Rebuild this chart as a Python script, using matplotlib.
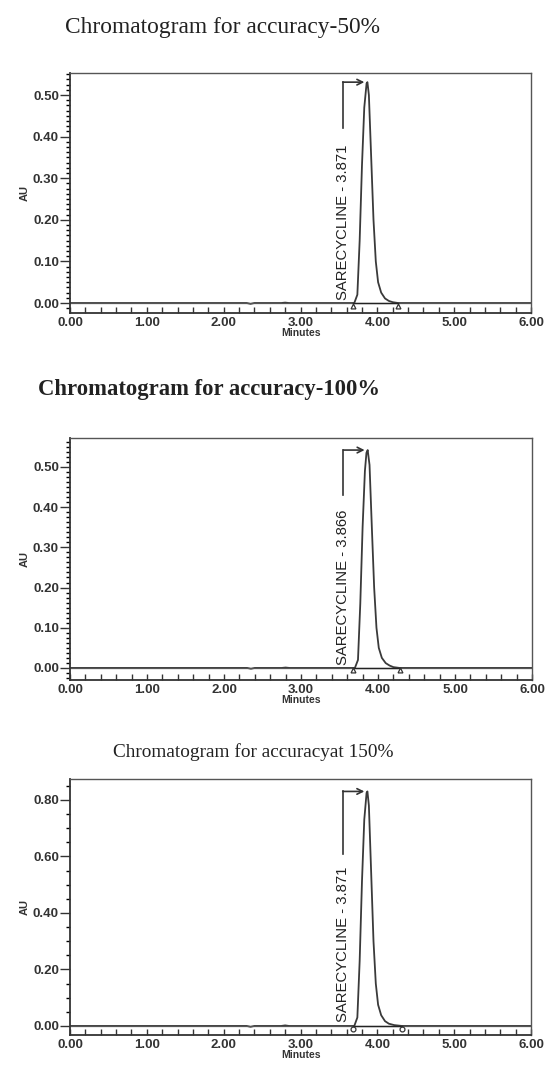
import matplotlib
matplotlib.use("Agg")
from matplotlib import pyplot as plt
from matplotlib.ticker import MultipleLocator, FormatStrFormatter

# chromatogram traces (time in minutes, absorbance in AU)
titles = ["Chromatogram for accuracy-50%",
          "Chromatogram for accuracy-100%",
          "Chromatogram for accuracyat 150%"]
peak_labels = ["SARECYCLINE - 3.871", "SARECYCLINE - 3.866", "SARECYCLINE - 3.871"]
retention = [3.871, 3.866, 3.871]

time_50 = [0.00, 2.30, 2.35, 2.40, 2.75, 2.80, 2.85, 3.70, 3.74, 3.77, 3.80, 3.83,
           3.86, 3.871, 3.89, 3.92, 3.95, 3.98, 4.01, 4.05, 4.10, 4.15, 4.20, 4.27, 6.00]
au_50 = [0.000, 0.000, -0.002, 0.000, 0.000, 0.001, 0.000, 0.000, 0.020, 0.150, 0.330, 0.470,
         0.528, 0.531, 0.500, 0.350, 0.200, 0.100, 0.050, 0.025, 0.011, 0.005, 0.002, 0.000, 0.000]

time_100 = [0.00, 2.30, 2.35, 2.40, 2.75, 2.80, 2.85, 3.70, 3.74, 3.77, 3.80, 3.83,
            3.85, 3.866, 3.89, 3.92, 3.95, 3.98, 4.01, 4.05, 4.10, 4.15, 4.20, 4.28, 6.00]
au_100 = [0.000, 0.000, -0.002, 0.000, 0.000, 0.001, 0.000, 0.000, 0.020, 0.160, 0.350, 0.490,
          0.535, 0.542, 0.505, 0.350, 0.200, 0.100, 0.050, 0.025, 0.012, 0.006, 0.002, 0.000, 0.000]

time_150 = [0.00, 2.30, 2.35, 2.40, 2.75, 2.80, 2.85, 3.70, 3.74, 3.77, 3.80, 3.83,
            3.86, 3.871, 3.89, 3.92, 3.95, 3.98, 4.01, 4.05, 4.10, 4.15, 4.22, 4.32, 6.00]
au_150 = [0.000, 0.000, -0.003, 0.000, 0.000, 0.002, 0.000, 0.000, 0.030, 0.230, 0.510, 0.730,
          0.825, 0.830, 0.780, 0.540, 0.300, 0.150, 0.075, 0.038, 0.017, 0.008, 0.003, 0.000, 0.000]

peak_start = [3.68, 3.68, 3.68]
peak_end = [4.27, 4.28, 4.32]

y_limits = [(-0.024, 0.553), (-0.030, 0.572), (-0.032, 0.874)]
y_major = [0.10, 0.10, 0.20]
y_minor = [0.0125, 0.0125, 0.05]
arrow_bottom = [0.42, 0.43, 0.61]
marker_style = ["^", "^", "o"]

axes_boxes = [(70, 73, 531, 313), (70, 438, 532, 680), (70, 779, 531, 1035)]
title_pos = [(65, 27, 16.8), (38, 389, 16.3), (113, 752, 13.9)]
title_weight = ["normal", "bold", "normal"]

traces = [(time_50, au_50), (time_100, au_100), (time_150, au_150)]

W, H = 546, 1074
fig = plt.figure(figsize=(W / 100, H / 100), dpi=100)

for i in range(3):
    l, t, r, b = axes_boxes[i]
    ax = fig.add_axes([l / W, 1 - b / H, (r - l) / W, (b - t) / H])
    tx, ty = traces[i]
    ax.plot(tx, ty, color="#3a3a3a", lw=1.3)
    ax.axhline(0, color="#555555", lw=0.9)
    ax.plot([peak_start[i], peak_end[i]], [0, 0], color="#222222", lw=1.0)
    ax.plot([peak_start[i], peak_end[i]], [-0.006 * (y_limits[i][1] / 0.55)] * 2,
            ls="none", marker=marker_style[i], ms=3.5, mfc="none", mec="#333333", mew=0.9)

    ax.set_xlim(0, 6)
    ax.set_ylim(*y_limits[i])
    ax.xaxis.set_major_locator(MultipleLocator(1.0))
    ax.xaxis.set_minor_locator(MultipleLocator(0.2))
    ax.yaxis.set_major_locator(MultipleLocator(y_major[i]))
    ax.yaxis.set_minor_locator(MultipleLocator(y_minor[i]))
    ax.xaxis.set_major_formatter(FormatStrFormatter("%.2f"))
    ax.yaxis.set_major_formatter(FormatStrFormatter("%.2f"))
    ax.tick_params(axis="x", which="both", direction="in", length=4, width=1.0, pad=3,
                   labelsize=9.5, colors="#333333")
    ax.tick_params(axis="y", which="major", direction="out", length=7, width=1.0, pad=1,
                   labelsize=9.5, colors="#333333")
    ax.tick_params(axis="y", which="minor", direction="out", length=3, width=1.0)
    for lab in ax.get_xticklabels() + ax.get_yticklabels():
        lab.set_fontweight("bold")
        lab.set_family("Liberation Sans")
    for side in ["left", "bottom"]:
        ax.spines[side].set_linewidth(1.3)
        ax.spines[side].set_color("#333333")
    for side in ["top", "right"]:
        ax.spines[side].set_linewidth(1.0)
        ax.spines[side].set_color("#555555")

    ax.set_xlabel("Minutes", fontsize=7.5, fontweight="bold", family="Liberation Sans",
                  color="#333333", labelpad=-1)
    ax.set_ylabel("AU", fontsize=8, fontweight="bold", family="Liberation Sans",
                  color="#333333", labelpad=2)

    # peak label with the bent arrow pointing to the apex
    peak_h = max(ty)
    ax.text(3.55, 0.008 * (y_limits[i][1] / 0.55), peak_labels[i], rotation=90,
            ha="center", va="bottom", fontsize=10.7, family="Liberation Sans",
            color="#222222")
    ax.plot([3.55, 3.55], [arrow_bottom[i], peak_h], color="#333333", lw=1.2)
    ax.annotate("", xy=(retention[i] - 0.04, peak_h), xytext=(3.55, peak_h),
                arrowprops=dict(arrowstyle="->", color="#333333", lw=1.2,
                                shrinkA=0, shrinkB=0))

    x0, y0, fs = title_pos[i]
    fig.text(x0 / W, 1 - y0 / H, titles[i], ha="left", va="center", fontsize=fs,
             family="Liberation Serif", fontweight=title_weight[i], color="#222222")

fig.savefig("out.png", dpi=100)
